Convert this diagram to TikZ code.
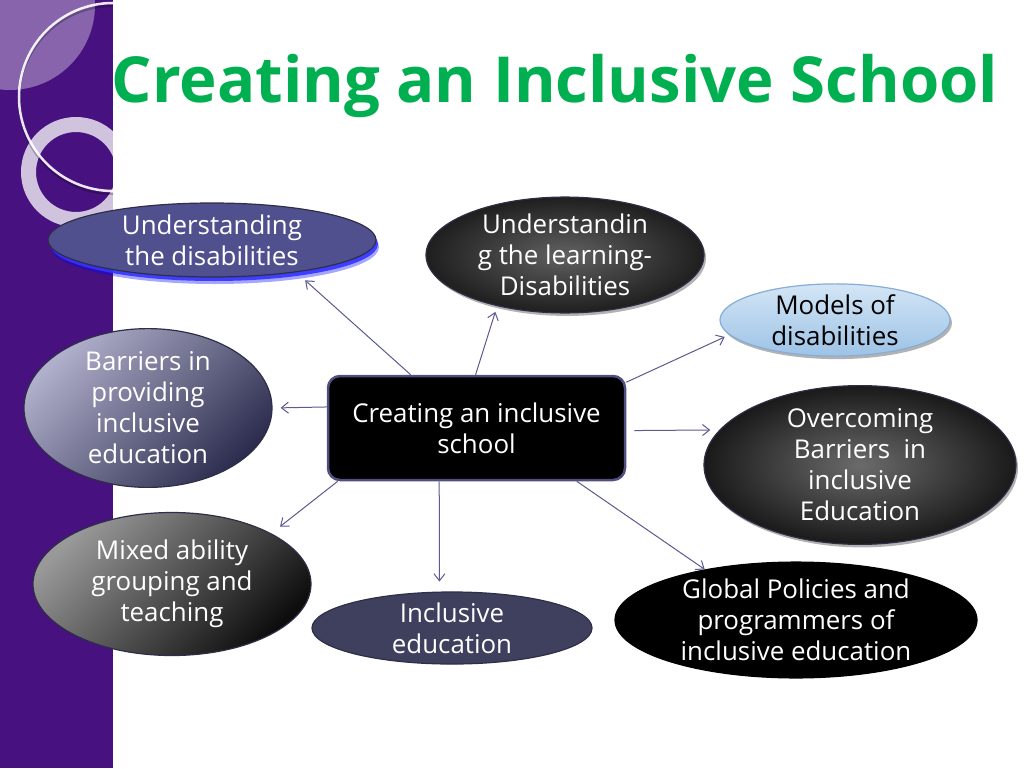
\documentclass[tikz,border=0pt]{standalone}
\usepackage{fontspec}
\setmainfont{Open Sans}
\usetikzlibrary{arrows.meta,shapes.geometric,shadows}
\definecolor{stripbg}{HTML}{47127F}
\definecolor{titlegreen}{HTML}{00B050}
\definecolor{link}{HTML}{5B5B8F}
\definecolor{edge}{HTML}{2E2E48}
\definecolor{undfill}{HTML}{50508E}
\definecolor{inclfill}{HTML}{3F3F5E}
\definecolor{skytop}{HTML}{D3E5F5}
\definecolor{skybot}{HTML}{9DC3E6}
\definecolor{skyedge}{HTML}{86ADD6}
\definecolor{boxedge}{HTML}{505080}

\begin{document}
\begin{tikzpicture}[x=1pt, y=-1pt, >={Straight Barb[length=7pt,width=11pt]},
  bub/.style={ellipse, draw=edge, line width=1.2pt, inner sep=0pt, text=white, align=center,
    font=\fontsize{25.9}{31}\selectfont},
  soft/.style={drop shadow={shadow xshift=2pt, shadow yshift=-3pt, opacity=0.3, fill=black}},
  arr/.style={->, draw=link, line width=1pt}]
  \useasboundingbox (0,0) rectangle (1024,768);
  \fill[white] (0,0) rectangle (1024,768);
  % left strip with rings
  \begin{scope}
    \clip (0,0) rectangle (113,768);
    \fill[stripbg] (0,0) rectangle (113,768);
    \fill[white, opacity=0.35] (10,5) circle[radius=85];
    \draw[white, opacity=0.75, line width=15pt] (76,172) circle[radius=47.5];
    \draw[black, opacity=0.25, line width=2pt] (113,100) circle[radius=94];
    \draw[white, opacity=0.9, line width=2.5pt] (113,97) circle[radius=94];
  \end{scope}
  \node[font=\fontsize{63.5}{72}\selectfont\bfseries, text=titlegreen, anchor=base] (ttl) at (555,102)
    {Creating an Inclusive School};
  % centre box
  \node[draw=boxedge, line width=2.5pt, fill=black, rounded corners=12pt, text=white, align=center,
    minimum width=297pt, minimum height=104pt, inner sep=0pt, font=\fontsize{25.9}{31}\selectfont]
    (ctr) at (476.5,428) {Creating an inclusive\\school};
  % topics
  \node[bub, fill=undfill, minimum width=328pt, minimum height=74pt,
    drop shadow={shadow xshift=3pt, shadow yshift=-7pt, opacity=0.35, fill=blue},
    drop shadow={shadow xshift=2pt, shadow yshift=-4pt, opacity=0.9, fill=blue!80}]
    (und) at (212,240) {Understanding\\the disabilities};
  \node[bub, soft, inner color=black!62, outer color=black!88, minimum width=278pt, minimum height=96pt]
    (learn) at (565,255) {Understandin\\g the learning-\\Disabilities};
  \node[bub, soft, draw=skyedge, top color=skytop, bottom color=skybot, text=black,
    minimum width=230pt, minimum height=58pt] (models) at (835,320) {Models of\\disabilities};
  \node[bub, soft, inner color=black!58, outer color=black!90, minimum width=312pt, minimum height=123pt]
    (over) at (860,465) {Overcoming\\Barriers~ in\\inclusive\\Education};
  \node[bub, fill=black, draw=black, minimum width=362pt, minimum height=103pt]
    (glob) at (796,620) {Global Policies and\\programmers of\\inclusive education};
  \node[bub, fill=inclfill, minimum width=280pt, minimum height=69pt]
    (incl) at (452,628) {Inclusive\\education};
  \node[bub, top color=black!40, bottom color=black!95, shading angle=45,
    minimum width=278pt, minimum height=143pt] (mixed) at (172,584) {Mixed ability\\grouping and\\teaching};
  \node[bub, top color=undfill!45!white, bottom color=undfill!55!black, shading angle=45,
    minimum width=248pt, minimum height=143pt] (barr) at (148,408) {Barriers in\\providing\\inclusive\\education};
  % links
  \draw[arr, shorten >=12pt] (ctr.141) -- (und.-21);
  \draw[arr, shorten >=6pt] (ctr.91) -- (learn.-143);
  \draw[arr, shorten >=5pt] (ctr.17) -- (models.-172);
  \draw[arr, shorten <=8pt, shorten >=9pt] (ctr.-1.5) -- (over.166);
  \draw[arr] (ctr.-28) -- (glob.151);
  \draw[arr, shorten >=10pt] (ctr.-125) -- (incl.109);
  \draw[arr, shorten >=11pt] (ctr.201) -- (mixed.27);
  \draw[arr, shorten >=8pt] (ctr.172) -- (barr.east);
\end{tikzpicture}
\end{document}
